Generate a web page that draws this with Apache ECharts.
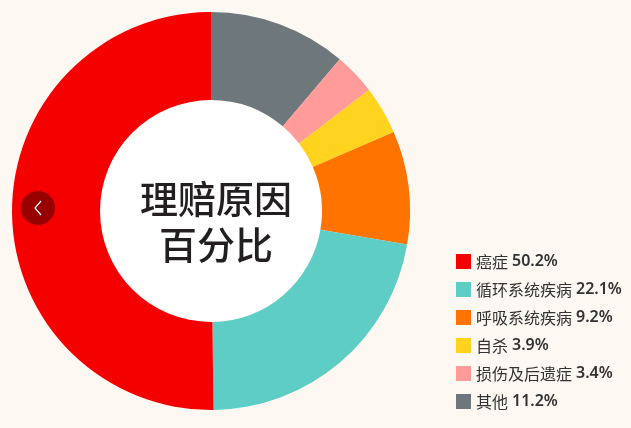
<!DOCTYPE html>
<html><head><meta charset="utf-8">
<script src="https://cdn.jsdelivr.net/npm/echarts@6/dist/echarts.min.js"></script>
<style>html,body{margin:0;padding:0;background:#fdf8f1;}#c{width:631px;height:428px;}</style>
</head><body><div id="c"></div>
<script>
// Legend order
const categories = ['癌症', '循环系统疾病', '呼吸系统疾病', '自杀', '损伤及后遗症', '其他'];
const values = [50.2, 22.1, 9.2, 3.9, 3.4, 11.2];
const colors = ['#f40000', '#5ecdc6', '#ff7300', '#ffd31e', '#ff9b99', '#6e777b'];
// Drawing order clockwise from the top
const drawOrder = ['其他', '损伤及后遗症', '自杀', '呼吸系统疾病', '循环系统疾病', '癌症'];
const centerTitle = '理赔原因\n百分比';

const pieData = drawOrder.map(n => {
  const i = categories.indexOf(n);
  return { name: n, value: values[i], itemStyle: { color: colors[i] } };
});

const chart = echarts.init(document.getElementById('c'));
chart.setOption({
  backgroundColor: '#fdf8f1',
  animation: false,
  legend: {
    data: categories,
    orient: 'vertical',
    left: 451,
    top: 248,
    itemWidth: 15,
    itemHeight: 15,
    itemGap: 11,
    icon: 'rect',
    textStyle: {
      fontSize: 16, lineHeight: 17, color: '#333', fontFamily: 'Noto Sans CJK SC',
      rich: {
        n: { fontSize: 16, color: '#333', fontFamily: 'Noto Sans CJK SC' },
        s: { width: 4 },
        p: { fontSize: 16, color: '#333', fontWeight: 600, fontFamily: 'Noto Sans' }
      }
    },
    formatter: n => '{n|' + n + '}{s|}{p|' + values[categories.indexOf(n)].toFixed(1) + '%}'
  },
  title: {
    text: centerTitle,
    left: 211, top: 217,
    textAlign: 'center', textVerticalAlign: 'middle',
    textStyle: { fontSize: 38, fontWeight: 500, color: '#231f20', lineHeight: 46, fontFamily: 'Noto Sans CJK SC' }
  },
  series: [{
    type: 'pie',
    center: [211, 211],
    radius: [111, 199],
    startAngle: 90,
    clockwise: true,
    label: { show: false },
    labelLine: { show: false },
    silent: true,
    data: pieData
  }],
  graphic: [
    { type: 'circle', shape: { cx: 211, cy: 211, r: 111 }, style: { fill: '#ffffff' }, z: -1 },
    { type: 'circle', shape: { cx: 38, cy: 208, r: 17 }, style: { fill: '#990000' }, z: 100 },
    { type: 'polyline', shape: { points: [[41, 201], [35, 208], [41, 215]] }, style: { stroke: '#ffffff', lineWidth: 1.2, fill: null }, z: 101 }
  ]
});
</script></body></html>
